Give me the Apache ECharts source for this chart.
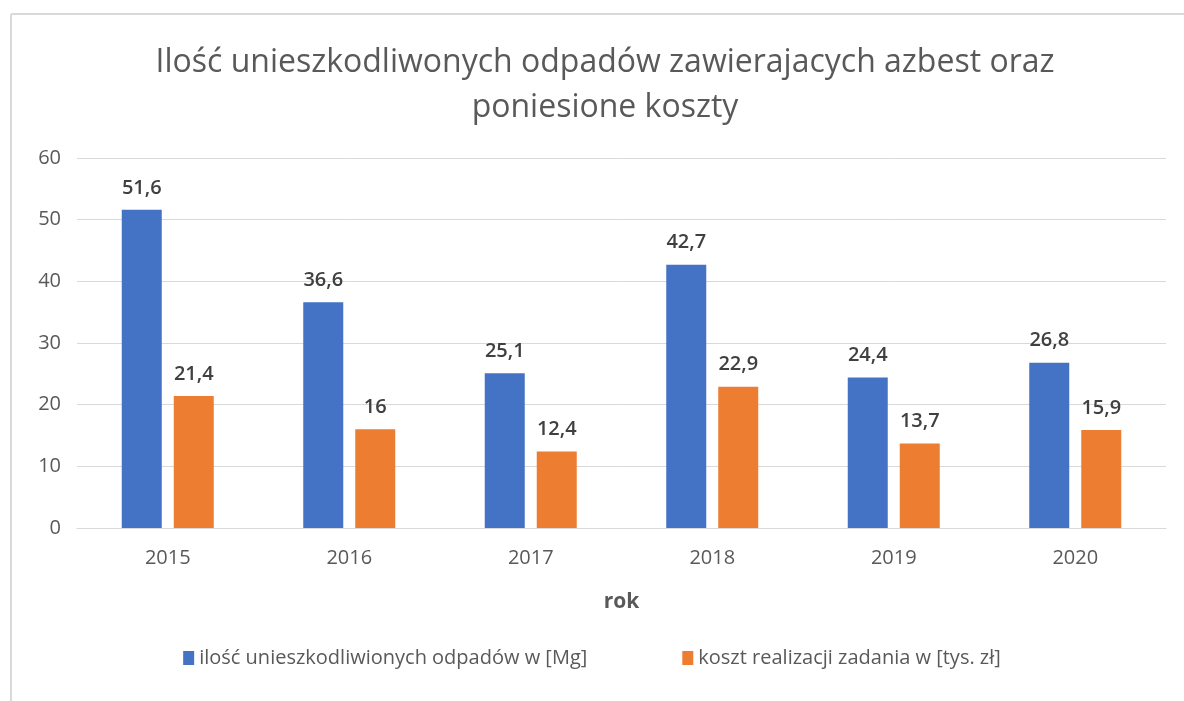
<!DOCTYPE html>
<html lang="pl">
<head>
    <meta charset="UTF-8">
    <title>Azbest</title>
    <script type="text/javascript" src="https://cdn.jsdelivr.net/npm/echarts@6/dist/echarts.min.js"></script>
    <style type="text/css">
        html, body { margin: 0; padding: 0; background: #ffffff; }
        #main { width: 1184px; height: 701px; }
    </style>
</head>
<body>
<div id="main"></div>
<script type="text/javascript">
    var years = ['2015', '2016', '2017', '2018', '2019', '2020'];
    var odpady = [51.6, 36.6, 25.1, 42.7, 24.4, 26.8];
    var koszt = [21.4, 16, 12.4, 22.9, 13.7, 15.9];
    var yTicks = [0, 10, 20, 30, 40, 50, 60];

    var FONT = '"Open Sans", "Noto Sans", sans-serif';
    var chart = echarts.init(document.getElementById('main'));

    // etykiety z przecinkiem dziesietnym
    function plLabel(p) {
        return String(p.value).replace('.', ',');
    }

    chart.setOption({
        animation: false,
        backgroundColor: '#ffffff',
        textStyle: { fontFamily: FONT },
        // ramka wykresu
        graphic: [
            { type: 'line', shape: { x1: 11, y1: 14, x2: 1184, y2: 14 }, style: { stroke: '#d9d9d9', lineWidth: 2 } },
            { type: 'line', shape: { x1: 11, y1: 14, x2: 11, y2: 701 }, style: { stroke: '#d9d9d9', lineWidth: 2 } }
        ],
        title: {
            text: 'Ilość unieszkodliwonych odpadów zawierajacych azbest oraz\nponiesione koszty',
            left: 600,
            textAlign: 'center',
            top: 35,
            textStyle: {
                fontFamily: FONT,
                fontSize: 32,
                fontWeight: 'normal',
                color: '#595959',
                lineHeight: 45
            }
        },
        legend: {
            bottom: 28,
            left: 'center',
            itemWidth: 11,
            itemHeight: 14,
            itemGap: 95,
            icon: 'rect',
            textStyle: { fontFamily: FONT, fontSize: 20, color: '#595959' },
            data: ['ilość unieszkodliwionych odpadów w [Mg]', 'koszt realizacji zadania w [tys. zł]']
        },
        grid: {
            left: 77,
            right: 18,
            top: 158,
            bottom: 173,
            containLabel: false
        },
        xAxis: {
            type: 'category',
            data: years,
            name: 'rok',
            nameLocation: 'middle',
            nameGap: 64,
            nameTextStyle: { fontFamily: FONT, fontSize: 21, fontWeight: 'bold', color: '#595959' },
            axisTick: { show: false },
            axisLine: { lineStyle: { color: '#d9d9d9', width: 1 } },
            axisLabel: { fontSize: 20, color: '#595959', margin: 20 }
        },
        yAxis: {
            type: 'value',
            min: yTicks[0],
            max: yTicks[yTicks.length - 1],
            interval: 10,
            axisLine: { show: false },
            axisTick: { show: false },
            axisLabel: { fontSize: 20, color: '#595959', margin: 16 },
            splitLine: { lineStyle: { color: '#d9d9d9', width: 1 } }
        },
        series: [
            {
                name: 'ilość unieszkodliwionych odpadów w [Mg]',
                type: 'bar',
                data: odpady,
                barWidth: 40,
                barGap: '30%',
                itemStyle: { color: '#4472c4' },
                label: {
                    show: true,
                    position: 'top',
                    distance: 12,
                    fontSize: 20,
                    fontWeight: 600,
                    color: '#404040',
                    formatter: plLabel
                }
            },
            {
                name: 'koszt realizacji zadania w [tys. zł]',
                type: 'bar',
                data: koszt,
                barWidth: 40,
                itemStyle: { color: '#ed7d31' },
                label: {
                    show: true,
                    position: 'top',
                    distance: 12,
                    fontSize: 20,
                    fontWeight: 600,
                    color: '#404040',
                    formatter: plLabel
                }
            }
        ]
    });
</script>
</body>
</html>
